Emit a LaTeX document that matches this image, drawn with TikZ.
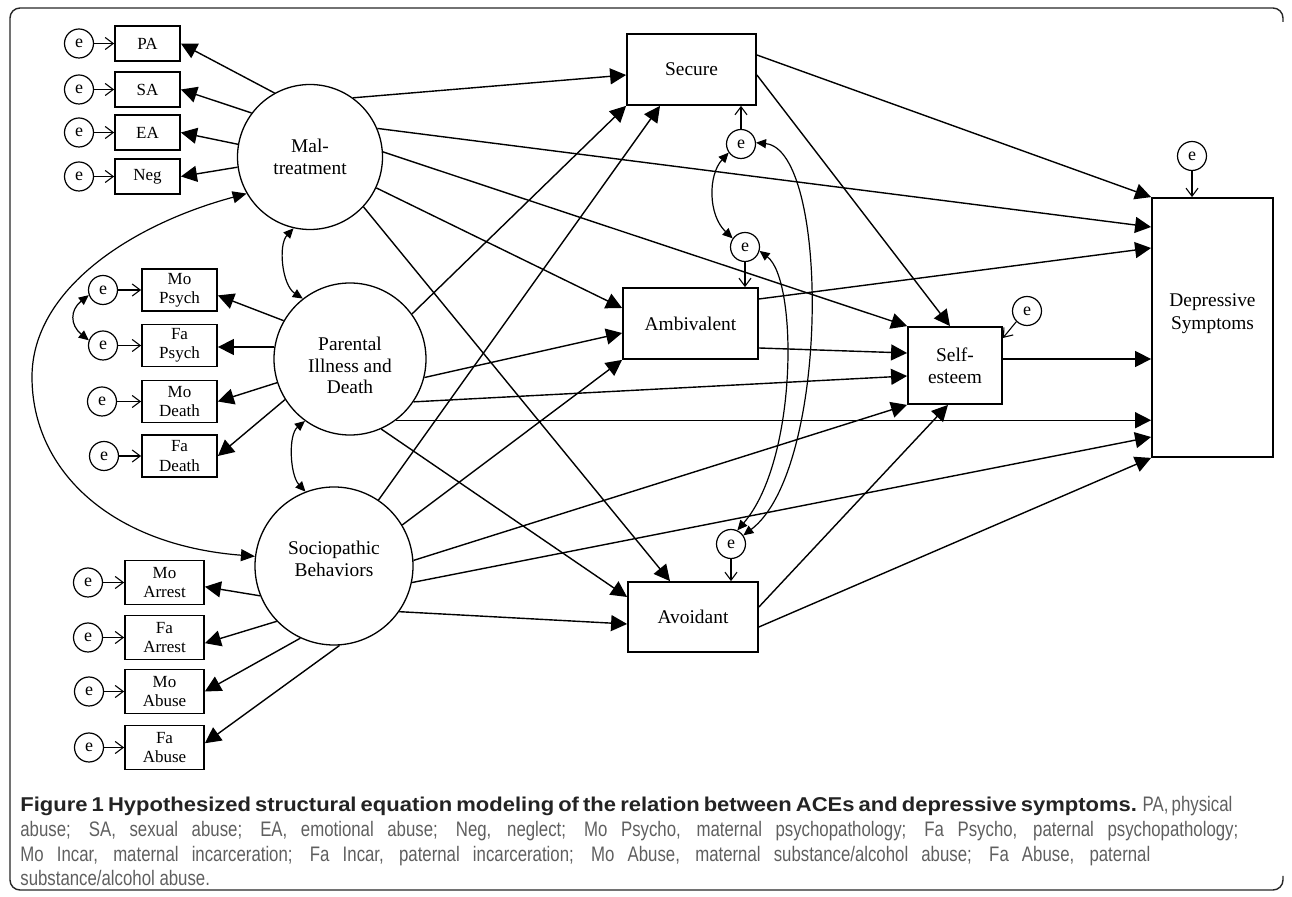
\documentclass[tikz,border=0pt]{standalone}
\usepackage{fontspec}
\setmainfont{Liberation Serif}
\newfontfamily\capfont[FakeStretch=0.8]{Liberation Sans}
\newfontfamily\capboldfont[FakeStretch=1.1]{Liberation Sans}
\usepackage{xcolor}
\usetikzlibrary{arrows.meta,positioning}
\definecolor{capgray}{RGB}{95,95,95}
\definecolor{capdark}{RGB}{35,35,35}
\tikzset{
  figframe/.style={draw=black!85, line width=0.7pt, rounded corners=5pt},
  latent/.style={draw, circle, line width=0.65pt, inner sep=0pt, align=center, font=\fontsize{9.7}{10.8}\selectfont},
  obsbox/.style={draw, rectangle, line width=0.9pt, inner sep=0pt, align=center},
  smallbox/.style={obsbox, font=\fontsize{8.5}{9.6}\selectfont},
  mbox/.style={smallbox, minimum width=32.5pt, minimum height=17.5pt},
  pbox/.style={smallbox, minimum width=37.5pt, minimum height=21pt},
  sbox/.style={smallbox, minimum width=39.5pt, minimum height=22pt},
  bigbox/.style={obsbox, font=\fontsize{9.7}{11.2}\selectfont},
  ecirc/.style={draw, circle, line width=0.6pt, minimum size=14.5pt, inner sep=0pt, font=\fontsize{9}{9}\selectfont},
  effect/.style={line width=0.7pt, -{Triangle[length=8pt,width=8pt]}},
  earrow/.style={line width=0.55pt, -{Straight Barb[length=4pt,width=6pt]}},
  covar/.style={line width=0.6pt, {Triangle[length=5pt,width=4.5pt]}-{Triangle[length=5pt,width=4.5pt]}},
  bigcovar/.style={line width=0.6pt, {Triangle[length=7pt,width=6pt]}-{Triangle[length=7pt,width=6pt]}},
  captext/.style={inner sep=0pt, anchor=base west, text=capgray, font=\capfont\fontsize{10.5}{12}\selectfont}
}

\begin{document}
\begin{tikzpicture}[x=0.5pt,y=-0.5pt]
\useasboundingbox (0,0) rectangle (1292,897);
% Frame
\draw[figframe] (1283,22) -- (1283,8) -- (10,8) -- (10,890) -- (1283,890) -- (1283,876);

% Maltreatment
\node[latent, minimum size=72.5pt] (mal) at (310,157) {Mal-\\treatment};
\node[mbox] (pa) at (147.5,43.5) {PA};
\node[mbox] (sa) at (147.5,89.5) {SA};
\node[mbox] (ea) at (147.5,132.5) {EA};
\node[mbox] (neg) at (147.5,176.5) {Neg};
\node[ecirc, left = 10pt of pa] (pae) {e};
\node[ecirc, left = 10pt of sa] (sae) {e};
\node[ecirc, left = 10pt of ea] (eae) {e};
\node[ecirc, left = 10pt of neg] (nege) {e};

% Parental illness and death
\node[latent, minimum size=76pt] (par) at (350,359) {\raisebox{-4.5pt}[\height][\depth]{\begin{tabular}{@{}c@{}}Parental\\Illness and\\Death\end{tabular}}};
\node[pbox] (mopsych) at (179.5,290) {Mo\\Psych};
\node[pbox] (fapsych) at (179.5,345.5) {Fa\\Psych};
\node[pbox] (modeath) at (179.5,401.5) {Mo\\Death};
\node[pbox] (fadeath) at (179.5,456) {Fa\\Death};
\node[ecirc, left = 11.5pt of mopsych] (mopsyche) {e};
\node[ecirc, left = 11.5pt of fapsych] (fapsyche) {e};
\node[ecirc, left = 12pt of modeath] (modeathe) {e};
\node[ecirc, left = 11pt of fadeath] (fadeathe) {e};

% Sociopathic behaviors
\node[latent, minimum size=79pt] (soc) at (334,566) {\raisebox{2.5pt}[\height][\depth]{\begin{tabular}{@{}c@{}}Sociopathic\\Behaviors\end{tabular}}};
\node[sbox] (moarrest) at (164.5,582.5) {Mo\\Arrest};
\node[sbox] (faarrest) at (164.5,637.5) {Fa\\Arrest};
\node[sbox] (moabuse) at (164.5,691.5) {Mo\\Abuse};
\node[sbox] (faabuse) at (164.5,747.5) {Fa\\Abuse};
\node[ecirc, left = 10.5pt of moarrest] (moarreste) {e};
\node[ecirc, left = 10.5pt of faarrest] (faarreste) {e};
\node[ecirc, left = 10pt of moabuse] (moabusee) {e};
\node[ecirc, left = 10pt of faabuse] (faabusee) {e};

% Attachment styles
\node[bigbox, minimum width=64.5pt, minimum height=35.5pt] (secure) at (691.5,69.5) {Secure};
\node[bigbox, minimum width=67.5pt, minimum height=35.5pt] (amb) at (690.5,323.5) {Ambivalent};
\node[bigbox, minimum width=65pt, minimum height=35pt] (avoid) at (693,617) {Avoidant};
\node[ecirc] (se) at (741,144) {e};
\node[ecirc] (ae) at (745,247) {e};
\node[ecirc] (ave) at (731,544) {e};

% Outcomes
\node[bigbox, minimum width=47pt, minimum height=38.5pt] (self) at (955,365.5) {Self-\\esteem};
\node[bigbox, minimum width=60.5pt, minimum height=129.5pt] (dep) at (1212.5,327.5) {\raisebox{7pt}[\height][\depth]{\begin{tabular}{@{}c@{}}Depressive\\Symptoms\end{tabular}}};
\node[ecirc] (selfe) at (1027,311) {e};
\node[ecirc] (depe) at (1192,156) {e};

% Error terms
\foreach \ind in {pa,sa,ea,neg,mopsych,fapsych,modeath,fadeath,moarrest,faarrest,moabuse,faabuse}
  \draw[earrow] (\ind e) -- (\ind);
\draw[earrow] (se) -- (se |- secure.south);
\draw[earrow] (ae) -- (ae |- amb.north);
\draw[earrow] (ave) -- (ave |- avoid.north);
\draw[earrow] (depe) -- (depe |- dep.north);
\draw[earrow] (selfe.225) -- (self.east |- 0,338);

% Measurement paths
\draw[effect] (mal.119.6) -- (pa.east);
\draw[effect] (mal.143.7) -- (sa.east);
\draw[effect] (mal.170.5) -- (ea.east);
\draw[effect] (mal.188.7) -- (neg.east);
\draw[effect] (par.150.8) -- (mopsych.-8);
\draw[effect] (par.171.5) -- (par.171.5 -| fapsych.east);
\draw[effect] (par.198.7) -- (modeath.east);
\draw[effect] (par.212.2) -- (fadeath.east);
\draw[effect] (soc.202.7) -- (moarrest.-6);
\draw[effect] (soc.224) -- (faarrest.-8);
\draw[effect] (soc.245.6) -- (moabuse.east);
\draw[effect] (soc.274) -- (faabuse.6);

% Covariances
\coordinate (arcleft) at (32,377);
\draw[bigcovar] (mal.210) .. controls (130,225) and (32,290) .. (arcleft) .. controls (32,470) and (110,545) .. (soc.173);
\draw[covar] (mal.257) .. controls (278,245) and (282,285) .. (par.128);
\draw[covar] (par.234) .. controls (288,435) and (290,475) .. (soc.111);
\draw[covar] (mopsyche.200) .. controls (70,310) and (70,325) .. (fapsyche.160);
\draw[covar] (se.215) .. controls (708,175) and (708,215) .. (ae.145);
\draw[covar] (se.5) .. controls (830,150) and (830,470) .. (ave.35);
\draw[covar] (ae.-15) .. controls (798,280) and (798,460) .. (ave.65);

% Structural paths
\draw[effect] (mal.54) -- (secure.west |- 0,75);
\draw[effect] (mal.23) -- (dep.west |- 0,227);
\draw[effect] (mal.4) -- (self.north west);
\draw[effect] (mal.-25) -- (amb.west |- 0,308);
\draw[effect] (mal.-43) -- (avoid.north -| 670,0);
\draw[effect] (par.36) -- (secure.south west);
\draw[effect] (par.-14) -- (amb.west |- 0,333);
\draw[effect] (par.-34) -- (self.west |- 0,376);
\draw[effect] (par.-53.4) -- (par.-53.4 -| dep.west);
\draw[effect] (par.-66) -- (avoid.west |- 0,597);
\draw[effect] (soc.56.5) -- (secure.south -| 660,0);
\draw[effect] (soc.31) -- (amb.south west);
\draw[effect] (soc.4) -- (self.south west);
\draw[effect] (soc.-12) -- (dep.west |- 0,437);
\draw[effect] (soc.-35) -- (avoid.west |- 0,624);
\draw[effect] (secure.east |- 0,55) -- (dep.north west);
\draw[effect] (secure.east |- 0,75) -- (self.north -| 950,0);
\draw[effect] (amb.east |- 0,299) -- (dep.west |- 0,248);
\draw[effect] (amb.east |- 0,348) -- (self.west |- 0,353);
\draw[effect] (self.east |- 0,359) -- (dep.west |- 0,359);
\draw[effect] (avoid.east |- 0,607) -- (self.south -| 948,0);
\draw[effect] (avoid.east |- 0,627) -- (dep.south west);

% Caption
\node[captext] (cap1) at (20,812) {\makebox[606pt][s]{{\capboldfont\fontsize{10}{12}\selectfont\bfseries\color{capdark}Figure 1 Hypothesized structural equation modeling of the relation between ACEs and depressive symptoms.} PA, physical}};
\node[captext] (cap2) at (20,837) {\makebox[609pt][s]{abuse; SA, sexual abuse; EA, emotional abuse; Neg, neglect; Mo Psycho, maternal psychopathology; Fa Psycho, paternal psychopathology;}};
\node[captext] (cap3) at (20,862) {\makebox[565pt][s]{Mo Incar, maternal incarceration; Fa Incar, paternal incarceration; Mo Abuse, maternal substance/alcohol abuse; Fa Abuse, paternal}};
\node[captext] (cap4) at (20,886) {substance/alcohol abuse.};
\end{tikzpicture}
\end{document}
